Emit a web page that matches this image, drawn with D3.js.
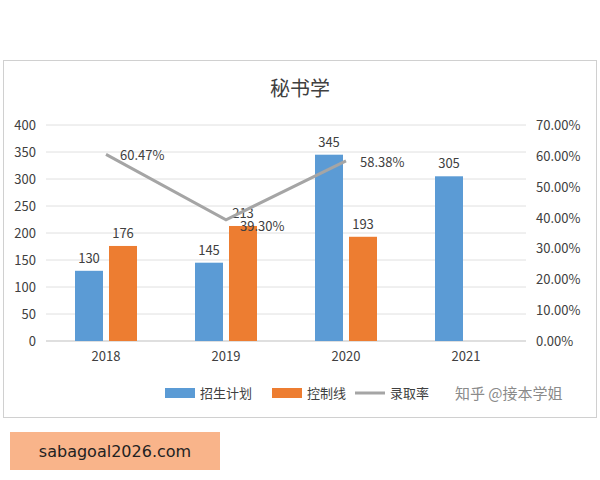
<!DOCTYPE html>
<html><head><meta charset="utf-8">
<script src="https://cdn.jsdelivr.net/npm/d3@7"></script>
<style>body{margin:0;background:#fff;font-family:"Noto Sans CJK SC","DejaVu Sans",sans-serif}</style>
</head><body><svg id="c" width="600" height="480"></svg>
<script>
const categories=["2018","2019","2020","2021"];
const plan=[130,145,345,305];
const control=[176,213,193,null];
const rate=[60.47,39.30,58.38];
const leftTicks=[0,50,100,150,200,250,300,350,400];
const rightTicks=[0,10,20,30,40,50,60,70];
const svg=d3.select("#c");
svg.append("rect").attr("x",3.5).attr("y",60.5).attr("width",593).attr("height",357).attr("fill","#fff").attr("stroke","#d0d0d0");
svg.append("text").attr("x",300).attr("y",96).attr("text-anchor","middle").attr("font-size",20).attr("fill","#404040").text("秘书学");
const x=d3.scaleBand().domain(categories).range([46,526]);
const y=d3.scaleLinear().domain([0,400]).range([341,125]);
const yr=d3.scaleLinear().domain([0,70]).range([341,125]);
const g=svg.append("g");
leftTicks.forEach(t=>{
  g.append("line").attr("x1",46).attr("x2",526).attr("y1",y(t)).attr("y2",y(t)).attr("stroke",t==0?"#bfbfbf":"#e0e0e0");
  g.append("text").attr("x",36).attr("y",y(t)+5).attr("text-anchor","end").attr("font-size",13).attr("fill","#404040").text(t);
});
rightTicks.forEach(t=>{
  g.append("text").attr("x",536).attr("y",yr(t)+5).attr("font-size",13).attr("fill","#404040").text(t.toFixed(2)+"%");
});
categories.forEach((c,i)=>{
  const cx=x(c)+x.bandwidth()/2;
  g.append("text").attr("x",cx).attr("y",361).attr("text-anchor","middle").attr("font-size",13).attr("fill","#404040").text(c);
  g.append("rect").attr("x",cx-31).attr("y",y(plan[i])).attr("width",28).attr("height",y(0)-y(plan[i])).attr("fill","#5b9bd5");
  g.append("text").attr("x",cx-17).attr("y",y(plan[i])-8).attr("text-anchor","middle").attr("font-size",13).attr("fill","#404040").text(plan[i]);
  if(control[i]!=null){
    g.append("rect").attr("x",cx+3).attr("y",y(control[i])).attr("width",28).attr("height",y(0)-y(control[i])).attr("fill","#ed7d31");
    g.append("text").attr("x",cx+17).attr("y",y(control[i])-8).attr("text-anchor","middle").attr("font-size",13).attr("fill","#404040").text(control[i]);
  }
});
const line=d3.line().x((d,i)=>x(categories[i])+x.bandwidth()/2).y(d=>yr(d));
g.append("path").datum(rate).attr("d",line).attr("fill","none").attr("stroke","#a5a5a5").attr("stroke-width",3);
const rateDy=[6,11,6];
rate.forEach((r,i)=>{
  g.append("text").attr("x",x(categories[i])+x.bandwidth()/2+14).attr("y",yr(r)+rateDy[i]).attr("font-size",13).attr("fill","#404040").text(r.toFixed(2)+"%");
});
const L=svg.append("g").attr("font-size",13).attr("fill","#404040");
L.append("rect").attr("x",165).attr("y",388).attr("width",30).attr("height",10).attr("fill","#5b9bd5");
L.append("text").attr("x",200).attr("y",398).text("招生计划");
L.append("rect").attr("x",272).attr("y",388).attr("width",30).attr("height",10).attr("fill","#ed7d31");
L.append("text").attr("x",307).attr("y",398).text("控制线");
L.append("line").attr("x1",355).attr("x2",385).attr("y1",393).attr("y2",393).attr("stroke","#a5a5a5").attr("stroke-width",3);
L.append("text").attr("x",390).attr("y",398).text("录取率");
svg.append("text").attr("x",455).attr("y",399).attr("font-size",15).attr("fill","#8a8a8a").text("知乎 @接本学姐");
svg.append("rect").attr("x",10).attr("y",432).attr("width",210).attr("height",38).attr("fill","#f9b48a");
svg.append("text").attr("x",115).attr("y",457).attr("text-anchor","middle").attr("font-size",16).attr("font-family","DejaVu Sans").attr("fill","#222").text("sabagoal2026.com");
</script></body></html>
